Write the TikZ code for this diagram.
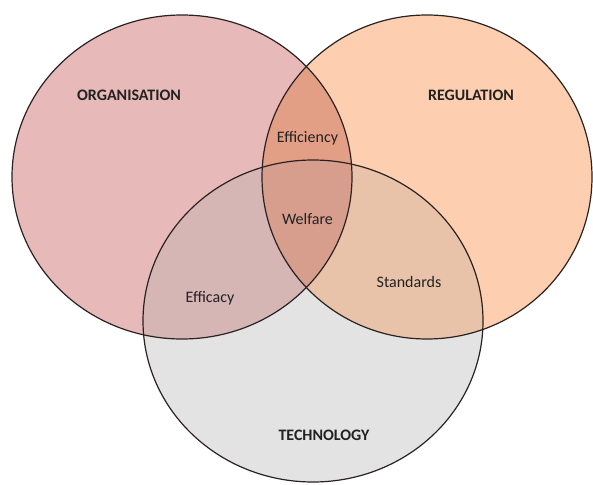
\documentclass[tikz,border=0pt]{standalone}
\usepackage{fontspec}
\setmainfont{Carlito}
\definecolor{orgc}{HTML}{E8B9B9}
\definecolor{regc}{HTML}{FDCFB0}
\definecolor{tecc}{HTML}{E3E3E3}
\definecolor{lrc}{HTML}{E39F85}
\definecolor{lbc}{HTML}{D6B5B5}
\definecolor{rbc}{HTML}{E8C3AA}
\definecolor{cc}{HTML}{D79E8E}
\definecolor{linec}{HTML}{2A2222}
\definecolor{textc}{HTML}{222222}
\begin{document}
\begin{tikzpicture}[x=1pt,y=-1pt,
  ring/.style={draw=linec, line width=1.2pt},
  lab/.style={font=\fontsize{16}{18}\selectfont, text=textc, inner sep=0pt, anchor=base},
  ttl/.style={font=\fontsize{16}{18}\selectfont\bfseries, text=textc, inner sep=0pt, anchor=base}]
\useasboundingbox (0,0) rectangle (593,484);
% base fills
\fill[orgc] (182,177) ellipse [x radius=170pt, y radius=162pt];
\fill[regc] (427,177) ellipse [x radius=165pt, y radius=162pt];
\fill[tecc] (313,321) ellipse [x radius=170pt, y radius=161pt];
% right & bottom
\begin{scope}
  \clip (427,177) ellipse [x radius=165pt, y radius=162pt];
  \fill[rbc] (313,321) ellipse [x radius=170pt, y radius=161pt];
\end{scope}
% left overlaps
\begin{scope}
  \clip (182,177) ellipse [x radius=170pt, y radius=162pt];
  \fill[lrc] (427,177) ellipse [x radius=165pt, y radius=162pt];
  \fill[lbc] (313,321) ellipse [x radius=170pt, y radius=161pt];
  \clip (427,177) ellipse [x radius=165pt, y radius=162pt];
  \fill[cc] (313,321) ellipse [x radius=170pt, y radius=161pt];
\end{scope}
% outlines
\draw[ring] (182,177) ellipse [x radius=170pt, y radius=162pt];
\draw[ring] (427,177) ellipse [x radius=165pt, y radius=162pt];
\draw[ring] (313,321) ellipse [x radius=170pt, y radius=161pt];
% labels
\node[ttl] (org) at (129,100) {ORGANISATION};
\node[ttl] (reg) at (471,100) {REGULATION};
\node[ttl] (tec) at (324,440) {TECHNOLOGY};
\node[lab] (eff) at (307.5,142) {Efficiency};
\node[lab] (wel) at (307.5,224) {Welfare};
\node[lab] (efa) at (210,302) {Efficacy};
\node[lab] (sta) at (409,287) {Standards};
\end{tikzpicture}
\end{document}
